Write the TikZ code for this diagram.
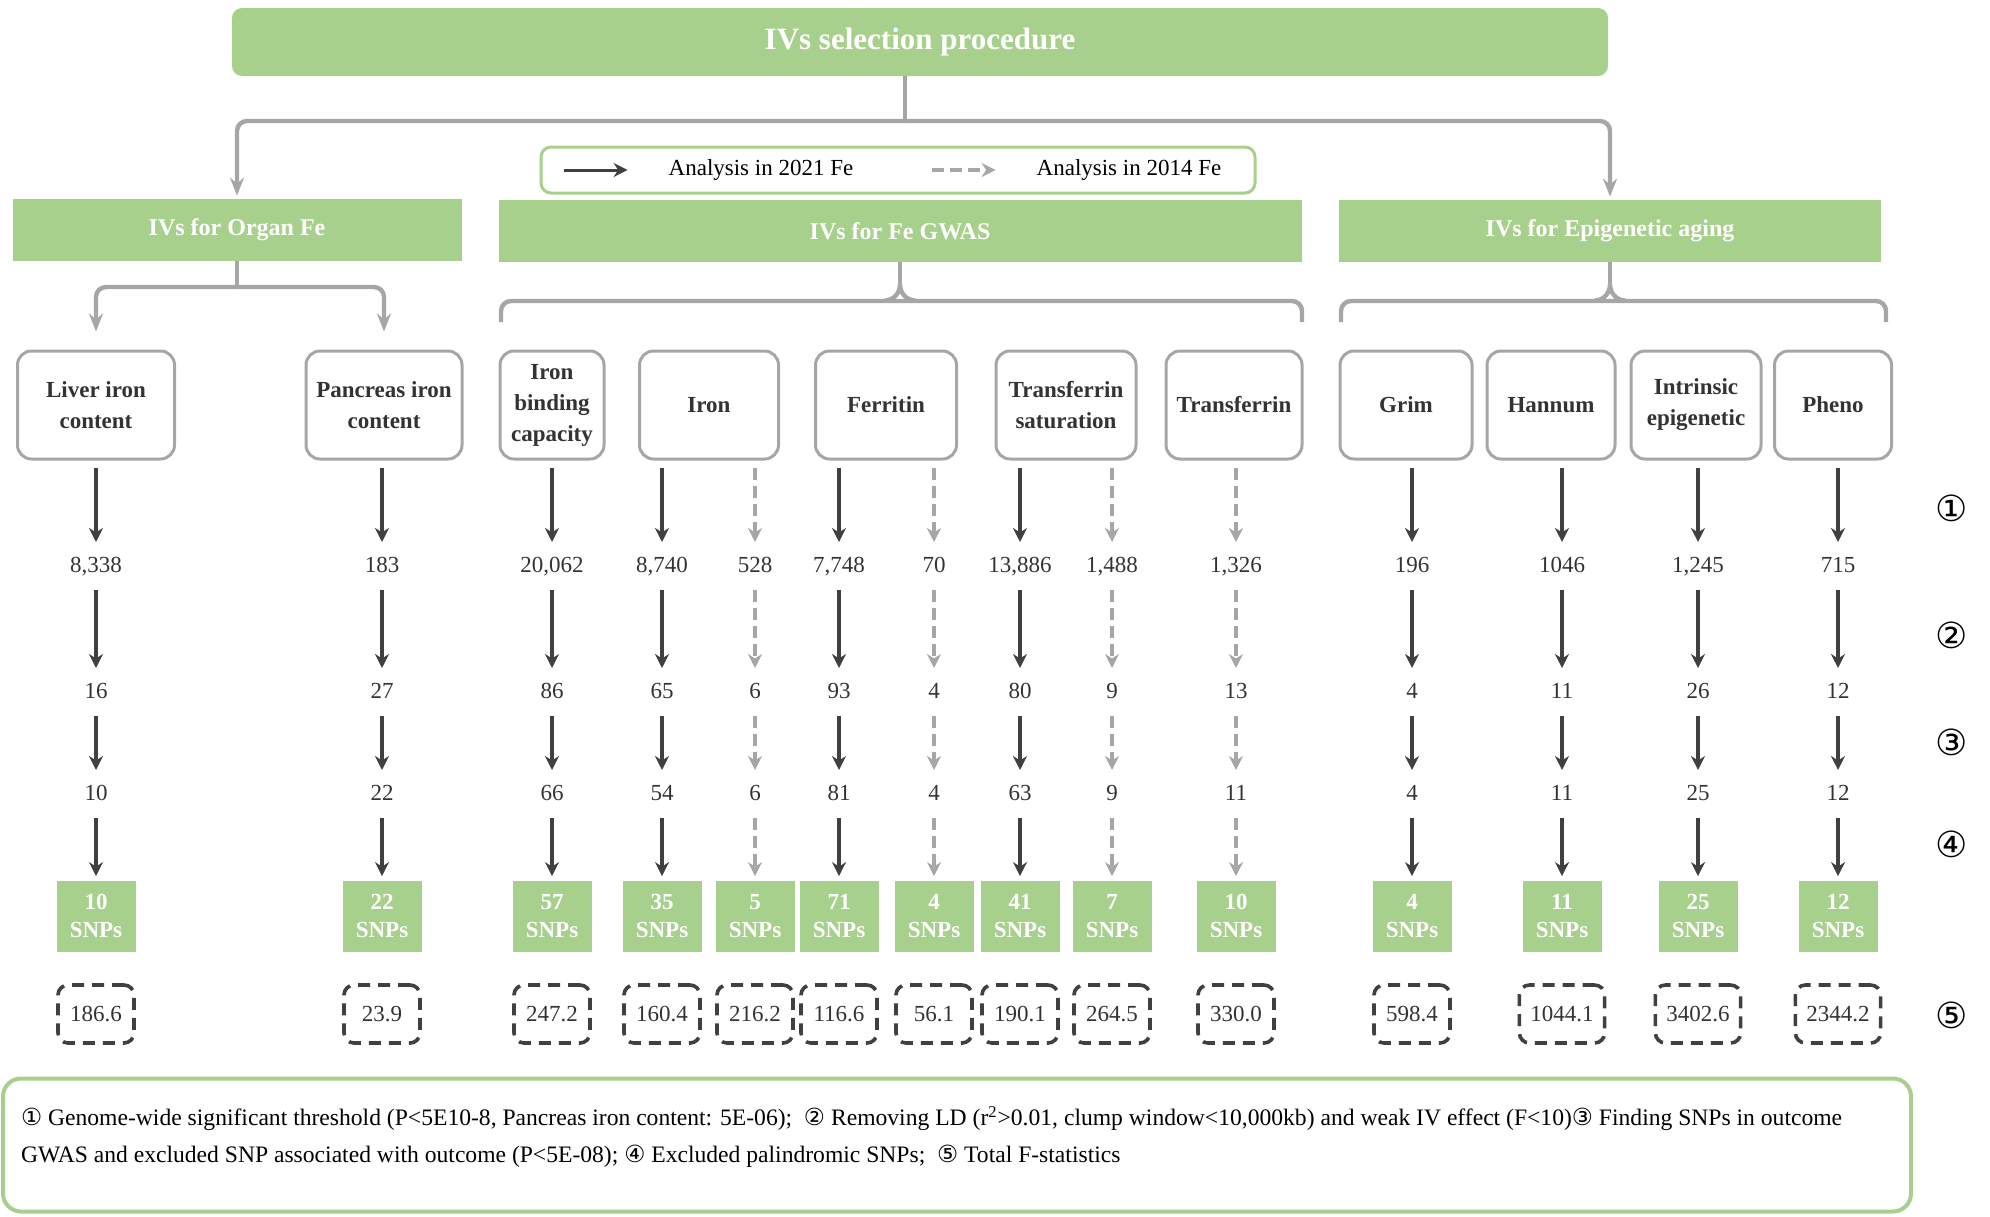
\documentclass[tikz,border=0pt]{standalone}
\usepackage{fontspec}
\setmainfont{Liberation Serif}
\newfontfamily\circfont{DejaVu Sans}
\usetikzlibrary{arrows.meta}
\definecolor{ivgreen}{HTML}{A8D08D}
\definecolor{boxgray}{HTML}{A6A6A6}
\definecolor{arrowdark}{HTML}{404040}
\definecolor{textdark}{HTML}{333333}
\newcommand{\cnum}[1]{{\circfont #1}}
\tikzstyle{title} = [rectangle, rounded corners=5pt,
minimum width=688pt,
minimum height=34pt,
fill=ivgreen, text=white,
font=\bfseries\fontsize{15.5}{18}\selectfont]
\tikzstyle{header} = [rectangle,
minimum height=31pt,
fill=ivgreen, text=white,
font=\bfseries\fontsize{12}{14}\selectfont]
\tikzstyle{item} = [rectangle, rounded corners=7pt,
minimum height=54pt, inner sep=2pt,
draw=boxgray, line width=1.5pt, fill=white,
text=textdark, align=center,
font=\bfseries\fontsize{11.5}{15.5}\selectfont]
\tikzstyle{num} = [inner sep=0pt, outer sep=7pt,
text height=8pt, text depth=2pt,
text=textdark, font=\fontsize{11.5}{14}\selectfont]
\tikzstyle{snp} = [rectangle,
minimum width=39.5pt, minimum height=35.5pt, inner sep=1pt,
fill=ivgreen, text=white, align=center,
font=\bfseries\fontsize{11.5}{14}\selectfont]
\tikzstyle{fstat} = [rectangle, rounded corners=5pt,
minimum width=38pt, minimum height=29pt, inner ysep=4pt, inner xsep=5.5pt,
draw=arrowdark, line width=1.8pt, dash pattern=on 6pt off 4pt,
text=textdark, font=\fontsize{11.5}{14}\selectfont]
\tikzstyle{legendbox} = [rectangle, rounded corners=5pt,
minimum width=357pt, minimum height=23pt,
draw=ivgreen, line width=1.5pt, fill=white]
\tikzstyle{legendtext} = [text=black, font=\fontsize{11.5}{14}\selectfont]
\tikzstyle{marker} = [text=black, font=\circfont\fontsize{18}{18}\selectfont]
\tikzstyle{notebox} = [rectangle, rounded corners=9pt,
minimum width=954pt, minimum height=66.5pt,
draw=ivgreen, line width=2pt, fill=white]
\tikzstyle{link} = [line width=2.2pt, draw=boxgray, rounded corners=5pt,
>={Stealth[length=9pt, width=7pt, inset=3pt]}]
\tikzstyle{arrow} = [line width=1.6pt, draw=arrowdark, ->,
>={Stealth[length=7pt, width=7pt]}]
\tikzstyle{dasharrow} = [line width=1.6pt, draw=boxgray, ->,
dash pattern=on 6pt off 3pt,
>={Stealth[length=7pt, width=7pt]}]

\begin{document}
\begin{tikzpicture}[x=0.5pt, y=-0.5pt]
\useasboundingbox (0,0) rectangle (1990,1216);

\node (title) [title] at (920,42) {IVs selection procedure};

\node (organ) [header, minimum width=224.5pt] at (237,230) {IVs for Organ Fe};
\node (gwas) [header, minimum width=401.5pt] at (900,231) {IVs for Fe GWAS};
\node (epi) [header, minimum width=271pt] at (1610,231) {IVs for Epigenetic aging};

% legend
\node (legend) [legendbox] at (898,170) {};
\node (lg1) [legendtext] at (761,170) {Analysis in 2021 Fe};
\node (lg2) [legendtext] at (1129,170) {Analysis in 2014 Fe};
\draw [arrow, line width=1.5pt] ([xshift=-49pt]lg1.west) -- ([xshift=-17pt]lg1.west);
\draw [dasharrow, line width=1.8pt] ([xshift=-49pt]lg2.west) -- ([xshift=-17pt]lg2.west);

% title to groups
\coordinate (split) at (905,121);
\draw [link] (split |- title.south) -- (split);
\draw [link, ->, shorten >=1.5pt] (split) -| (organ.north);
\draw [link, ->, shorten >=1.5pt] (split) -| (epi.north);

% exposures
\node (liver) [item, minimum width=78.5pt] at (96,405) {Liver iron\\content};
\node (pancreas) [item, minimum width=78pt] at (384,405) {Pancreas iron\\content};
\node (ibc) [item, minimum width=52pt] at (552,405) {Iron\\binding\\capacity};
\node (iron) [item, minimum width=69.5pt] at (709,405) {Iron};
\node (ferritin) [item, minimum width=70.5pt] at (886,405) {Ferritin};
\node (tsat) [item, minimum width=70pt] at (1066,405) {Transferrin\\saturation};
\node (transferrin) [item, minimum width=68pt] at (1234,405) {Transferrin};
\node (grim) [item, minimum width=66pt] at (1406,405) {Grim};
\node (hannum) [item, minimum width=64pt] at (1551,405) {Hannum};
\node (intrinsic) [item, minimum width=65pt] at (1696,405) {Intrinsic\\epigenetic};
\node (pheno) [item, minimum width=58.5pt] at (1833,405) {Pheno};

% organ branch
\coordinate (organsplit) at (237,287);
\draw [link] (organ.south) -- (organsplit);
\draw [link, ->, shorten >=9pt] (organsplit) -| (liver.north);
\draw [link, ->, shorten >=9pt] (organsplit) -| (pancreas.north);

% braces
\draw [link] (501,322) -- (501,301) -- (1302,301) -- (1302,322);
\draw [link] (gwas.south) -- ++(0,22) coordinate (gtip);
\draw [link, rounded corners=0pt] (gtip) to[out=-90,in=0] ++(-15,16);
\draw [link, rounded corners=0pt] (gtip) to[out=-90,in=180] ++(15,16);
\draw [link] (1341,322) -- (1341,301) -- (1886,301) -- (1886,322);
\draw [link] (epi.south) -- ++(0,22) coordinate (etip);
\draw [link, rounded corners=0pt] (etip) to[out=-90,in=0] ++(-15,16);
\draw [link, rounded corners=0pt] (etip) to[out=-90,in=180] ++(15,16);

% selection steps
\foreach \i/\x/\src/\sty/\a/\b/\c/\d/\f in {
1/96/liver/arrow/8{,}338/16/10/10/186.6,
2/382/pancreas/arrow/183/27/22/22/23.9,
3/552/ibc/arrow/20{,}062/86/66/57/247.2,
4/662/iron/arrow/8{,}740/65/54/35/160.4,
5/755/iron/dasharrow/528/6/6/5/216.2,
6/839/ferritin/arrow/7{,}748/93/81/71/116.6,
7/934/ferritin/dasharrow/70/4/4/4/56.1,
8/1020/tsat/arrow/13{,}886/80/63/41/190.1,
9/1112/tsat/dasharrow/1{,}488/9/9/7/264.5,
10/1236/transferrin/dasharrow/1{,}326/13/11/10/330.0,
11/1412/grim/arrow/196/4/4/4/598.4,
12/1562/hannum/arrow/1046/11/11/11/1044.1,
13/1698/intrinsic/arrow/1{,}245/26/25/25/3402.6,
14/1838/pheno/arrow/715/12/12/12/2344.2}
{
\node (ra\i) [num] at (\x,566) {\a};
\node (rb\i) [num] at (\x,692) {\b};
\node (rc\i) [num] at (\x,794) {\c};
\node (snp\i) [snp] at (\x,916) {\d\\SNPs};
\node (fs\i) [fstat] at (\x,1014) {\f};
\draw [\sty, shorten <=3.5pt] (\src.south -| ra\i) -- (ra\i);
\draw [\sty] (ra\i) -- (rb\i);
\draw [\sty] (rb\i) -- (rc\i);
\draw [\sty, shorten >=2pt] (rc\i) -- (snp\i);
}

% step markers
\node (m1) [marker] at (1952,508) {①};
\node (m2) [marker] at (1952,635) {②};
\node (m3) [marker] at (1952,742) {③};
\node (m4) [marker] at (1952,844) {④};
\node (m5) [marker] at (1952,1015) {⑤};

% footnote
\node (notebox) [notebox] at (957,1145) {};
\node (note) [anchor=north west, align=left, text=black, font=\fontsize{11.8}{18.5}\selectfont] at (14,1099) {\cnum{①} Genome-wide significant threshold (P<5E10-8, Pancreas iron content: 5E-06);\ \ \cnum{②} Removing LD (r\textsuperscript{2}>0.01, clump window<10,000kb) and weak IV effect (F<10)\cnum{③} Finding SNPs in outcome\\GWAS and excluded SNP associated with outcome (P<5E-08); \cnum{④} Excluded palindromic SNPs;\ \ \cnum{⑤} Total F-statistics};
\end{tikzpicture}
\end{document}
